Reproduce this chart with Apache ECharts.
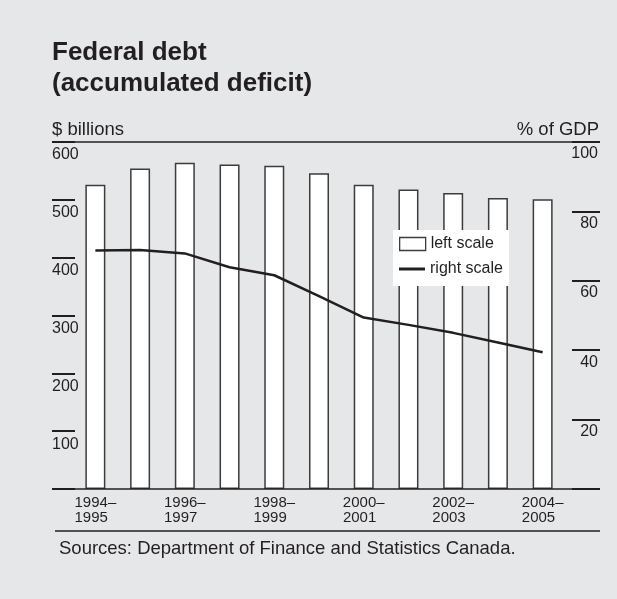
<!DOCTYPE html>
<html>
<head>
<meta charset="utf-8">
<script src="https://cdn.jsdelivr.net/npm/echarts@6/dist/echarts.min.js"></script>
<style>
  html, body { margin: 0; padding: 0; background: #e6e7e8; }
  #chart { width: 617px; height: 599px; }
</style>
</head>
<body>
<div id="chart"></div>
<script>
// fiscal years, $ billions (left), % of GDP (right)
const categories = ['1994–1995', '1995–1996', '1996–1997', '1997–1998', '1998–1999', '1999–2000',
  '2000–2001', '2001–2002', '2002–2003', '2003–2004', '2004–2005'];
const debtBillions = [526, 554, 564, 561, 559, 546, 526, 518, 512, 503, 501];
const debtPctGdp = [68.7, 68.9, 67.9, 63.9, 61.6, 55.6, 49.4, 47.3, 45.0, 42.2, 39.4];

const ink = '#231f20';
const font = '"Liberation Sans", Arial, Helvetica, sans-serif';

const chart = echarts.init(document.getElementById('chart'));

const hline = (x1, x2, y) => ({
  type: 'line', z: 5,
  shape: { x1, y1: y, x2, y2: y },
  style: { stroke: ink, lineWidth: 1.5 },
});

chart.setOption({
  backgroundColor: '#e6e7e8',
  animation: false,
  textStyle: { fontFamily: font, color: ink },
  title: [
    {
      text: 'Federal debt\n(accumulated deficit)',
      left: 52, top: 37, padding: 0,
      textStyle: { fontFamily: font, fontSize: 26, fontWeight: 'bold', lineHeight: 31, color: ink },
    },
    {
      text: '$ billions', left: 52, top: 120, padding: 0,
      textStyle: { fontFamily: font, fontSize: 18.5, fontWeight: 'normal', lineHeight: 20, color: ink },
    },
    {
      text: '% of GDP', right: 18, top: 120, padding: 0,
      textStyle: { fontFamily: font, fontSize: 18.5, fontWeight: 'normal', lineHeight: 20, color: ink },
    },
    {
      text: 'Sources: Department of Finance and Statistics Canada.', left: 59, top: 539, padding: 0,
      textStyle: { fontFamily: font, fontSize: 18.5, fontWeight: 'normal', lineHeight: 20, color: ink },
    },
  ],
  legend: [
    {
      data: [{ name: 'left scale', icon: 'rect' }],
      left: 399, top: 236, padding: 0, z: 20,
      itemWidth: 26, itemHeight: 13,
      itemStyle: { color: '#fff', borderColor: '#3c3c3c', borderWidth: 1.3 },
      textStyle: { fontFamily: font, fontSize: 16, lineHeight: 16, color: ink },
    },
    {
      data: [{ name: 'right scale', icon: 'rect' }],
      left: 399, top: 261, padding: 0, z: 20,
      itemWidth: 26, itemHeight: 3,
      itemStyle: { color: ink },
      textStyle: { fontFamily: font, fontSize: 16, lineHeight: 16, color: ink },
    },
  ],
  grid: { left: 73, right: 52, top: 142, bottom: 110 },
  xAxis: {
    type: 'category',
    data: categories,
    axisLine: { show: false },
    axisTick: { show: false },
    axisLabel: {
      interval: 1,
      margin: 6,
      fontFamily: font, fontSize: 15, lineHeight: 15.5, color: ink,
      formatter: (v) => {
        const [a, b] = v.split('–');
        return a + '–\n' + b + '  ';
      },
    },
  },
  yAxis: [
    {
      type: 'value', min: 0, max: 600, interval: 100,
      offset: -2,
      splitLine: { show: false },
      axisLine: { show: false },
      axisTick: { show: true, length: 23, lineStyle: { color: ink, width: 2 } },
      axisLabel: {
        align: 'left', verticalAlign: 'top', margin: 23, padding: [5, 0, 0, 0],
        fontFamily: font, fontSize: 16, lineHeight: 16, color: ink,
        formatter: (v) => (v === 0 ? '' : String(v)),
      },
    },
    {
      type: 'value', min: 0, max: 100, interval: 20,
      position: 'right', offset: 7,
      splitLine: { show: false },
      axisLine: { show: false },
      axisTick: { show: true, length: 28, lineStyle: { color: ink, width: 2 } },
      axisLabel: {
        align: 'right', verticalAlign: 'top', margin: 26, padding: [4, 0, 0, 0],
        fontFamily: font, fontSize: 16, lineHeight: 16, color: ink,
        formatter: (v) => (v === 0 ? '' : String(v)),
      },
    },
  ],
  graphic: [
    hline(52, 600, 142),
    hline(55, 600, 489),
    hline(55, 600, 531),
    { type: 'rect', z: 10, shape: { x: 393, y: 230, width: 116, height: 56 }, style: { fill: '#fff' } },
  ],
  series: [
    {
      name: 'left scale',
      type: 'bar',
      yAxisIndex: 0,
      barWidth: 20,
      itemStyle: { color: '#fff', borderColor: '#3c3c3c', borderWidth: 1.5 },
      data: debtBillions,
    },
    {
      name: 'right scale',
      type: 'line',
      yAxisIndex: 1,
      symbol: 'none',
      z: 3,
      lineStyle: { color: ink, width: 2.5 },
      itemStyle: { color: ink },
      data: debtPctGdp,
    },
  ],
});
</script>
</body>
</html>
